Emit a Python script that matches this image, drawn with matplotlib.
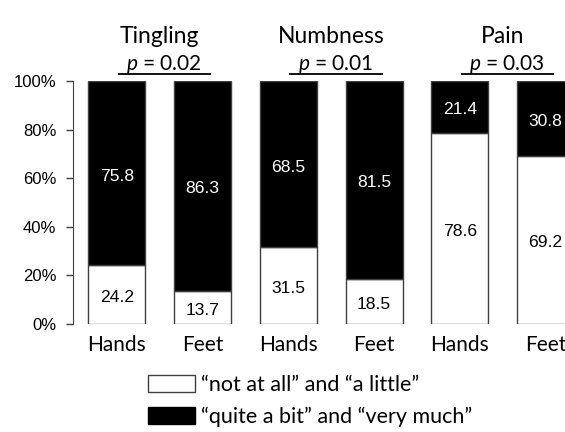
import matplotlib
matplotlib.use("Agg")
import matplotlib.pyplot as plt
from matplotlib.patches import Patch
from matplotlib.transforms import blended_transform_factory

plt.rcParams['mathtext.fontset'] = 'custom'
plt.rcParams['mathtext.it'] = 'Lato:italic'
plt.rcParams['mathtext.rm'] = 'Lato'

groups = ["Tingling", "Numbness", "Pain"]
pvalues = ["0.02", "0.01", "0.03"]
bar_labels = ["Hands", "Feet", "Hands", "Feet", "Hands", "Feet"]
low = [24.2, 13.7, 31.5, 18.5, 78.6, 69.2]     # "not at all" and "a little"
high = [75.8, 86.3, 68.5, 81.5, 21.4, 30.8]    # "quite a bit" and "very much"
legend_labels = ["\u201cnot at all\u201d and \u201ca little\u201d",
                 "\u201cquite a bit\u201d and \u201cvery much\u201d"]
yticks = [0, 20, 40, 60, 80, 100]

W, H = 565, 432
fig = plt.figure(figsize=(W / 100, H / 100), dpi=100)
ax = fig.add_axes([73 / W, (H - 324) / H, (W - 73) / W, 243 / H])

x = list(range(len(low)))
bw = 0.665
ax.bar(x, low, width=bw, color="white", edgecolor="#404040", linewidth=1)
ax.bar(x, high, width=bw, bottom=low, color="black", edgecolor="#404040", linewidth=1)

off = 1.2
for i in x:
    ax.text(i, low[i] / 2 - off, f"{low[i]:.1f}", ha="center", va="center",
            fontsize=12.6, family="Liberation Sans", color="black")
    ax.text(i, low[i] + high[i] / 2 - off, f"{high[i]:.1f}", ha="center", va="center",
            fontsize=12.6, family="Liberation Sans", color="white")

ax.set_xlim(-0.51, 5.225)
ax.set_ylim(0, 100)
ax.set_yticks(yticks)
ax.set_yticklabels([f"{t}%" for t in yticks], family="Liberation Sans", fontsize=12)
ax.set_xticks(x)
ax.set_xticklabels(bar_labels, family="Lato", fontsize=15)
ax.tick_params(axis="x", length=0, pad=8)
ax.tick_params(axis="y", length=5, width=1, color="#404040", pad=7)
for s in ["top", "right", "bottom"]:
    ax.spines[s].set_visible(False)
ax.spines["left"].set_color("#404040")

trans = blended_transform_factory(ax.transData, ax.transAxes)
for g, (name, p) in enumerate(zip(groups, pvalues)):
    cx = 2 * g + 0.5
    ax.text(cx, 1.185, name, transform=trans, ha="center", va="center",
            fontsize=16.5, family="Lato")
    ax.text(cx + 0.05, 1.068, r"$\it{p}$ = " + p, transform=trans, ha="center",
            va="center", fontsize=15, family="Lato")
    ax.plot([cx - 0.49, cx + 0.6], [1.03, 1.03], transform=trans, color="black",
            linewidth=1.3, clip_on=False, solid_capstyle="butt")

handles = [Patch(facecolor="white", edgecolor="#404040", linewidth=1),
           Patch(facecolor="black", edgecolor="black", linewidth=1)]
fig.legend(handles, legend_labels, loc="upper left",
           bbox_to_anchor=(139 / W, 1 - 366 / H), frameon=False,
           prop={"family": "Lato", "size": 15.5}, handlelength=2.2,
           handleheight=0.85, handletextpad=0.3, labelspacing=0.55,
           borderaxespad=0)

fig.savefig("out.png", dpi=100)
